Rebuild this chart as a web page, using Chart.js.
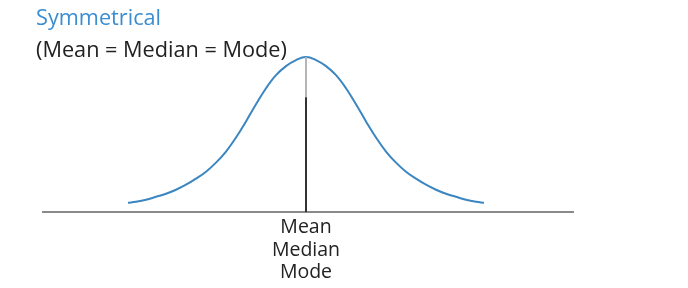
<!DOCTYPE html>
<html>
<head>
<meta charset="utf-8">
<script src="https://cdn.jsdelivr.net/npm/chart.js@4.4.1/dist/chart.umd.min.js"></script>
<style>
  html, body { margin: 0; padding: 0; background: #fff; }
  #wrap { position: relative; width: 688px; height: 288px; font-family: 'Open Sans', sans-serif; }
  #title { position: absolute; left: 36px; top: 2px; font-size: 21.7px; color: #3a8dd0; }
  #subtitle { position: absolute; left: 36px; top: 34px; font-size: 21.7px; color: #222; }
</style>
</head>
<body>
<div id="wrap">
  <canvas id="chart"></canvas>
  <div id="title">Symmetrical</div>
  <div id="subtitle">(Mean = Median = Mode)</div>
</div>
<script>
// curve: offset from the centre line, height above the baseline
const curveX = [-178, -170, -160, -150, -140, -130, -120, -110, -100, -90, -80, -70, -60, -50, -40, -30, -20, -10, 0,
                10, 20, 30, 40, 50, 60, 70, 80, 90, 100, 110, 120, 130, 140, 150, 160, 170, 178];
const curveY = [9, 10, 12, 15, 18, 22, 27, 33, 40, 49, 60, 74, 90, 107, 123, 136, 145, 151, 154,
                151, 145, 136, 123, 107, 90, 74, 60, 49, 40, 33, 27, 22, 18, 15, 12, 10, 9];

// centre marker (mean = median = mode)
const centerX = 0;
const markerDark = [0, 114];
const markerLight = [114, 154];
const centerLabel = ['Mean', 'Median', 'Mode'];

const curve = curveX.map((x, i) => ({ x, y: curveY[i] }));

new Chart(document.getElementById('chart'), {
  type: 'line',
  data: {
    datasets: [
      {
        data: markerDark.map(y => ({ x: centerX, y })),
        borderColor: '#333',
        borderWidth: 2,
        pointRadius: 0,
      },
      {
        data: markerLight.map(y => ({ x: centerX, y })),
        borderColor: '#b5b5b5',
        borderWidth: 2,
        pointRadius: 0,
      },
      {
        data: curve,
        borderColor: '#3b86c1',
        borderWidth: 2,
        pointRadius: 0,
        tension: 0.4,
      },
    ],
  },
  options: {
    responsive: true,
    maintainAspectRatio: false,
    animation: false,
    layout: { padding: { left: 43, right: 115, top: 51, bottom: 0 } },
    plugins: { legend: { display: false }, tooltip: { enabled: false } },
    scales: {
      x: {
        type: 'linear',
        min: -263,
        max: 267,
        grid: { display: false, drawTicks: false },
        border: { display: true, color: '#8a8a8a', width: 2 },
        afterBuildTicks: axis => { axis.ticks = [{ value: centerX }]; },
        ticks: {
          autoSkip: false,
          maxRotation: 0,
          padding: 5,
          color: '#222',
          font: { family: 'Open Sans', size: 19.5, lineHeight: 1.13 },
          callback: () => centerLabel,
        },
      },
      y: { display: false, min: 0, max: 160 },
    },
  },
});
</script>
</body>
</html>
